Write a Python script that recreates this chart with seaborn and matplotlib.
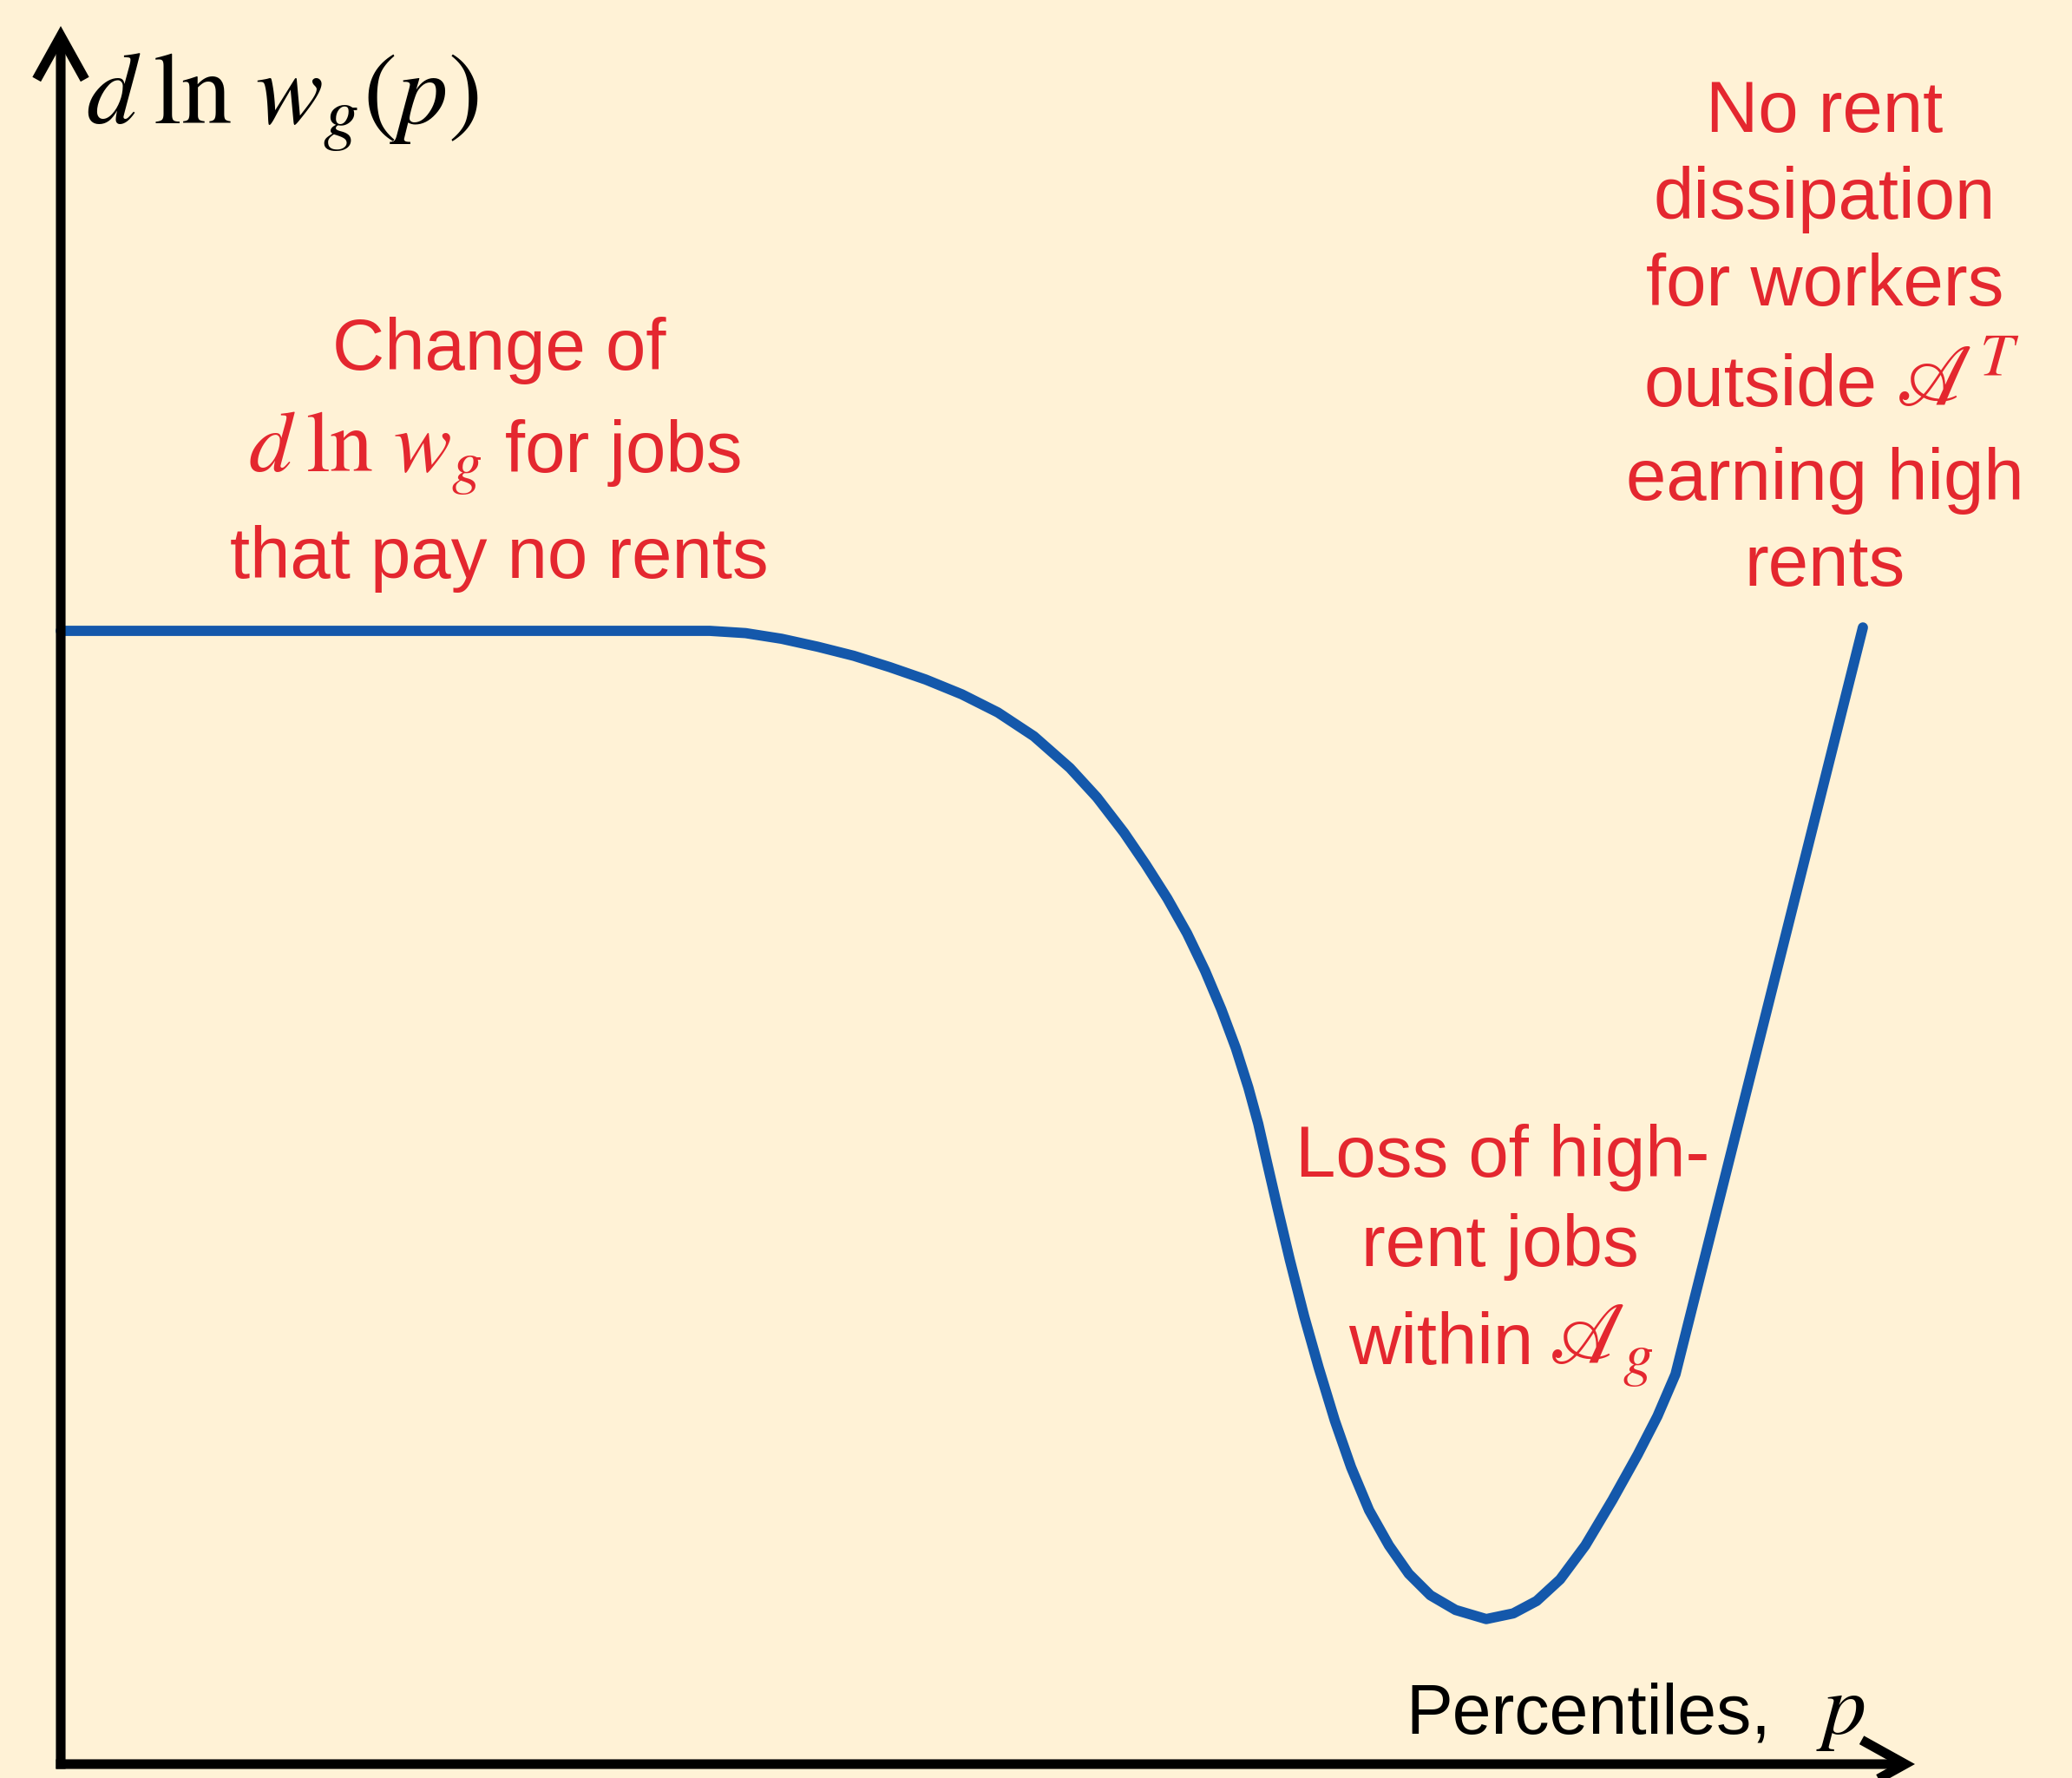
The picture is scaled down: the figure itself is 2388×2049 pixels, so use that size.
import matplotlib
matplotlib.use("Agg")
import matplotlib.pyplot as plt
import seaborn as sns
import pandas as pd

# Valores: percentil p y cambio d ln w_g(p) (unidades relativas)
percentil = [0, 36.01, 38.0, 40.0, 42.0, 44.0, 46.0, 48.0, 50.0, 52.0, 54.0, 56.0, 57.5,
             59.0, 60.2, 61.4, 62.5, 63.5, 64.4, 65.2, 65.9, 66.45, 66.92,
             67.5, 68.2, 69.0, 69.8, 70.7, 71.6, 72.6, 73.7, 74.8, 76.0, 77.4, 79.1,
             80.6, 81.9, 83.2, 84.6, 86.1, 87.5, 88.6, 89.6, 100.0]
dlnw = [1.0, 1.0, 0.998, 0.993, 0.986, 0.978, 0.968, 0.957, 0.944, 0.928, 0.907, 0.879, 0.853,
        0.822, 0.794, 0.764, 0.733, 0.700, 0.666, 0.632, 0.597, 0.565, 0.532,
        0.492, 0.445, 0.395, 0.350, 0.303, 0.262, 0.224, 0.193, 0.168, 0.149, 0.136, 0.128,
        0.133, 0.144, 0.163, 0.193, 0.233, 0.273, 0.307, 0.344, 1.003]

etiqueta_y = r"$d\:\ln\,w_g(p)$"
etiqueta_x = "Percentiles,"

# Colores
FONDO = "#FFF2D6"
AZUL = "#1458AB"
ROJO = "#E4272F"

# Geometria (pixeles de la imagen final)
W, H = 2388, 2049
X0, Y0 = 70, 2033      # origen de los ejes
SX, SY = 20.77, 1306   # pixeles por unidad


def fx(px):
    return px / W


def fy(py):
    return 1 - py / H


def graficar():
    sns.set_theme(style="white")
    plt.rcParams["font.family"] = ["Liberation Sans", "DejaVu Sans"]
    plt.rcParams["mathtext.fontset"] = "stix"

    fig = plt.figure(figsize=(W / 100, H / 100), dpi=100, facecolor=FONDO)
    ax = fig.add_axes([0, 0, 1, 1])
    ax.set_facecolor(FONDO)

    df = pd.DataFrame({"p": percentil, "dlnw": dlnw})
    sns.lineplot(data=df, x="p", y="dlnw", estimator=None, sort=False,
                 color=AZUL, linewidth=8.5, ax=ax)

    ax.set_xlim(-X0 / SX, (W - X0) / SX)
    ax.set_ylim(-(H - Y0) / SY, Y0 / SY)
    ax.axis("off")

    # Ejes con flechas
    flecha = dict(arrowstyle="->,head_length=0.9,head_width=0.5", lw=8,
                  color="black", shrinkA=0, shrinkB=0, mutation_scale=40,
                  capstyle="butt", joinstyle="miter")
    ax.annotate("", xy=((2207 - X0) / SX, 0), xytext=(-5.5 / SX, 0), arrowprops=flecha)
    ax.annotate("", xy=(0, (Y0 - 30) / SY), xytext=(0, -5.5 / SY), arrowprops=flecha)

    # Etiquetas de los ejes
    fig.text(fx(99), fy(142), etiqueta_y, fontsize=84, color="black", va="baseline", ha="left")
    fig.text(fx(2041), fy(1998), etiqueta_x, fontsize=58, color="black", va="baseline", ha="right")
    fig.text(fx(2150), fy(1998), r"$p$", fontsize=72, color="black", va="baseline", ha="right")

    # Bloque izquierdo
    fs = 60
    fm = 72
    fig.text(fx(575), fy(426), "Change of", fontsize=fs, color=ROJO, va="baseline", ha="center")
    fig.text(fx(556), fy(544), r"$d\:\ln\,w_g$", fontsize=fm, color=ROJO, va="baseline", ha="right")
    fig.text(fx(582), fy(544), "for jobs", fontsize=fs, color=ROJO, va="baseline", ha="left")
    fig.text(fx(575), fy(666), "that pay no rents", fontsize=fs, color=ROJO, va="baseline", ha="center")

    # Bloque derecho
    xc = 2103
    fig.text(fx(xc), fy(152), "No rent", fontsize=fs, color=ROJO, va="baseline", ha="center")
    fig.text(fx(xc), fy(252), "dissipation", fontsize=fs, color=ROJO, va="baseline", ha="center")
    fig.text(fx(xc), fy(352), "for workers", fontsize=fs, color=ROJO, va="baseline", ha="center")
    fig.text(fx(2163), fy(468), "outside", fontsize=fs, color=ROJO, va="baseline", ha="right")
    fig.text(fx(2185), fy(468), r"$\mathscr{A}^T$", fontsize=fm, color=ROJO, va="baseline", ha="left")
    fig.text(fx(xc), fy(576), "earning high", fontsize=fs, color=ROJO, va="baseline", ha="center")
    fig.text(fx(xc), fy(675), "rents", fontsize=fs, color=ROJO, va="baseline", ha="center")

    # Bloque central
    fig.text(fx(1732), fy(1356), "Loss of high-", fontsize=fs, color=ROJO, va="baseline", ha="center")
    fig.text(fx(1729), fy(1459), "rent jobs", fontsize=fs, color=ROJO, va="baseline", ha="center")
    fig.text(fx(1767), fy(1572), "within", fontsize=fs, color=ROJO, va="baseline", ha="right")
    fig.text(fx(1785), fy(1572), r"$\mathscr{A}_g$", fontsize=fm, color=ROJO, va="baseline", ha="left")

    fig.savefig("out.png", dpi=100, facecolor=FONDO)
    plt.close(fig)


if __name__ == "__main__":
    graficar()
